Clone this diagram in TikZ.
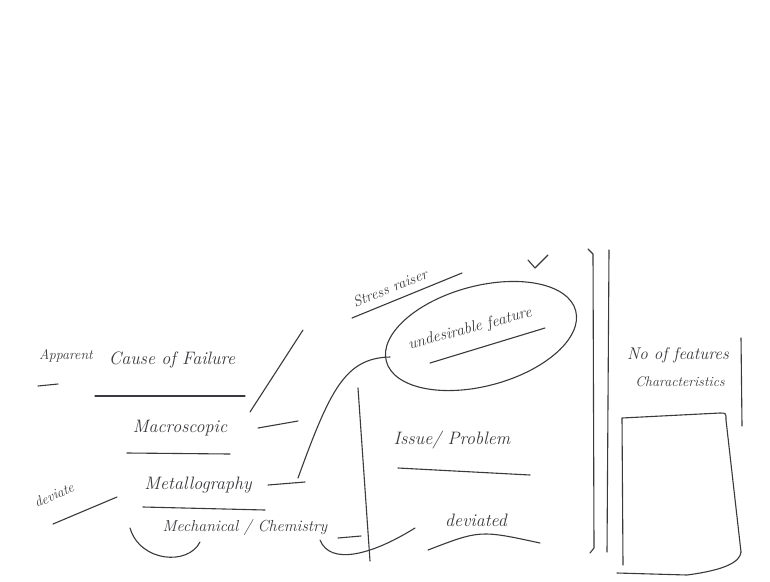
\documentclass[tikz,border=0pt]{standalone}
\usepackage{tikz}
\usetikzlibrary{positioning}
\definecolor{marker}{RGB}{58,58,62}

\begin{document}
\begin{tikzpicture}[x=1pt,y=-1pt,
 ink/.style={draw=marker,line width=1.1pt,line cap=round,line join=round},
 word/.style={text=marker,inner sep=1pt,font=\itshape\fontsize{18}{20}\selectfont},
 small/.style={word,font=\itshape\fontsize{14}{16}\selectfont}]
\useasboundingbox[fill=white] (0,0) rectangle (770,581);

% left column: causes
\node[small] (app) at (66,356) {Apparent};
\node[word] (cause) at (172,360) {Cause of Failure};
\node[word] (macro) at (180,428) {Macroscopic};
\node[word] (metal) at (198,485) {Metallography};
\node[word,font=\itshape\fontsize{16}{18}\selectfont] (mech) at (245,527) {Mechanical / Chemistry};
\node[small,rotate=24] (dev) at (54,495) {deviate};

\draw[ink] (38,386) -- (58,384);
\draw[ink] (95,396) -- (245,396);
\draw[ink] (127,453) -- (230,454);
\draw[ink] (143,507) -- (265,510);
\draw[ink] (53,524) -- (117,497);
\draw[ink] (130,528) .. controls (140,562) and (188,566) .. (200,542);

% links towards the middle
\coordinate (c1) at (250,412);
\coordinate (c2) at (303,330);
\draw[ink] (c1) -- (c2);
\coordinate (m1) at (258,428);
\coordinate (m2) at (298,421);
\draw[ink] (m1) -- (m2);
\coordinate (g1) at (268,485);
\coordinate (g2) at (305,482);
\draw[ink] (g1) -- (g2);
\coordinate (h1) at (338,538);
\coordinate (h2) at (361,536);
\draw[ink] (h1) -- (h2);

% middle: stress raiser, undesirable feature
\node[word,font=\itshape\fontsize{15}{17}\selectfont,rotate=22] (stress) at (390,288) {Stress raiser};
\draw[ink] (352,318) -- (462,273);
\draw[ink] (528,260) -- (535,268) -- (548,255);

\node[word,font=\itshape\fontsize{16}{18}\selectfont,rotate=15] (undes) at (470,329) {undesirable feature};
\draw[ink,rotate around={15:(481,336)}] (481,336) ellipse [x radius=98, y radius=50];
\draw[ink] (430,363) -- (545,328);
\coordinate (u1) at (390,357);
\draw[ink] (298,478) .. controls (330,390) and (345,358) .. (u1);

\draw[ink] (358,388) -- (370,561);

\node[word] (issue) at (452,440) {Issue/ Problem};
\draw[ink] (398,468) -- (530,475);
\node[word] (devd) at (476,520) {deviated};
\draw[ink] (428,550) .. controls (480,530) .. (540,543);
\coordinate (d1) at (415,528);
\draw[ink] (320,540) .. controls (330,565) and (370,556) .. (d1);

% double bar
\draw[ink] (588,249) -- (593,254) -- (594,548) -- (590,553);
\draw[ink] (609,250) -- (607,552);

% right: number of features
\node[word,font=\itshape\fontsize{17}{19}\selectfont] (nof) at (678,355) {No of features};
\node[small] (charac) at (680,382) {Characteristics};
\draw[ink] (741,338) -- (742,426);
\draw[ink] (623,565) -- (622,418) -- (720,413) .. controls (726,413) .. (726,420) -- (741,552);
\draw[ink] (617,573) -- (687,575) .. controls (725,570) and (740,562) .. (741,552);
\end{tikzpicture}
\end{document}
